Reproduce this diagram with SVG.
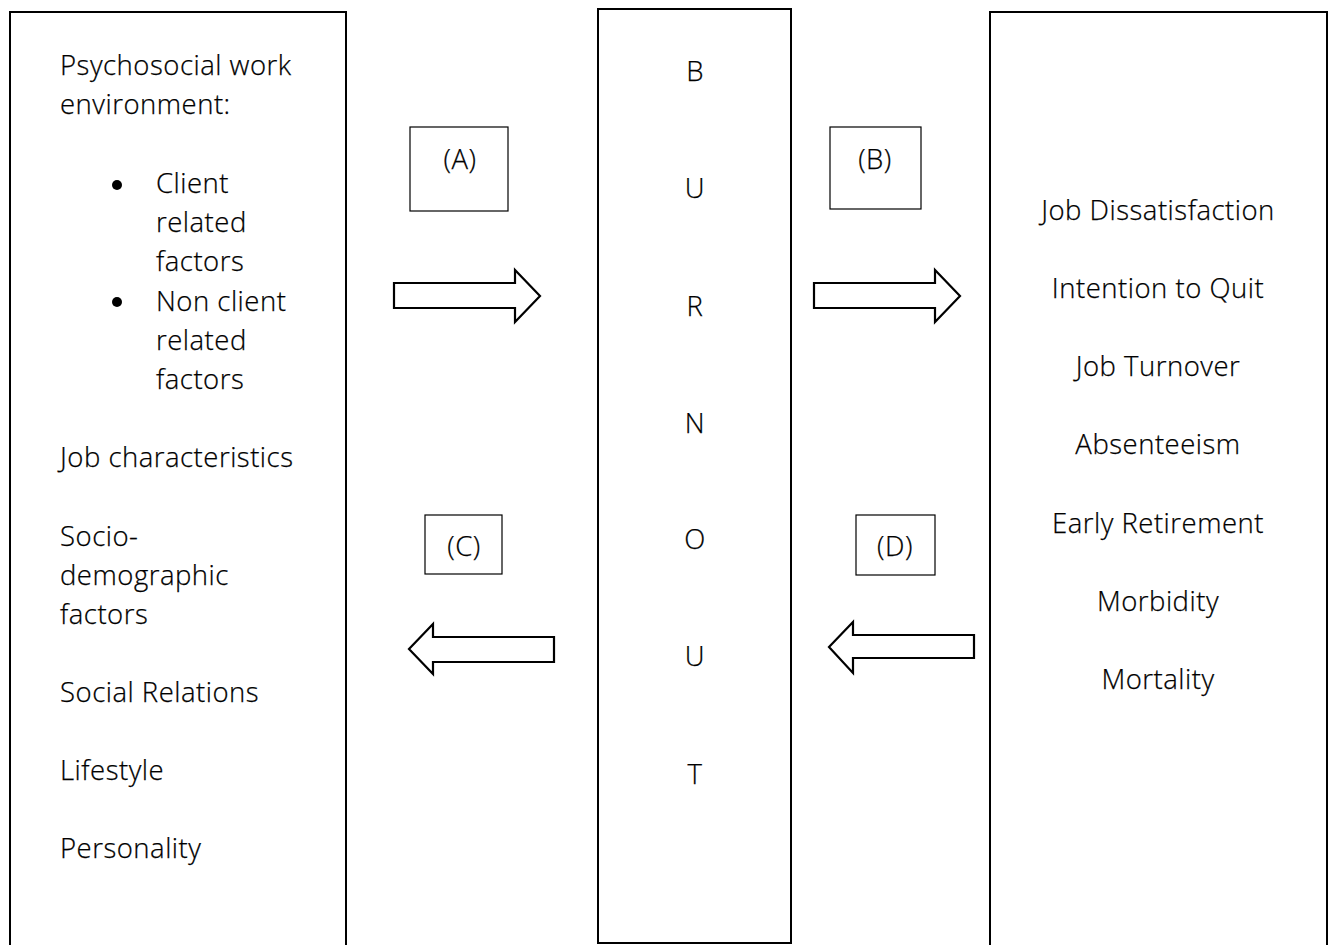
<svg xmlns="http://www.w3.org/2000/svg" width="1333" height="945" viewBox="0 0 1333 945">
  <style>
    .frame { fill: #ffffff; stroke: #000000; stroke-width: 2; }
    .tag { fill: #ffffff; stroke: #000000; stroke-width: 1.2; }
    .arrow { fill: #ffffff; stroke: #000000; stroke-width: 2.2; stroke-linejoin: miter; }
    text { font-family: "Open Sans", "Liberation Sans", sans-serif; font-weight: 300; font-size: 27.5px; letter-spacing: 0.5px; fill: #000000; stroke: #000000; stroke-width: 0.25px; }
    .mid { text-anchor: middle; }
  </style>
  <rect x="0" y="0" width="1333" height="945" fill="#ffffff"/>

  <!-- Determinants column (open at the bottom edge) -->
  <g id="determinants">
    <path class="frame" d="M10 946 V12 H346 V946"/>
    <text x="60" y="75">Psychosocial work</text>
    <text x="60" y="114">environment:</text>
    <circle cx="117" cy="185" r="5"/>
    <text x="156" y="193">Client</text>
    <text x="156" y="232">related</text>
    <text x="156" y="271">factors</text>
    <circle cx="117" cy="302" r="5"/>
    <text x="156" y="311">Non client</text>
    <text x="156" y="350">related</text>
    <text x="156" y="389">factors</text>
    <text x="60" y="467">Job characteristics</text>
    <text x="60" y="546">Socio-</text>
    <text x="60" y="585">demographic</text>
    <text x="60" y="624">factors</text>
    <text x="60" y="702">Social Relations</text>
    <text x="60" y="780">Lifestyle</text>
    <text x="60" y="858">Personality</text>
  </g>

  <!-- Burnout column -->
  <g id="burnout">
    <rect class="frame" x="598" y="9" width="193" height="934"/>
    <text class="mid" x="695" y="81">B</text>
    <text class="mid" x="695" y="198">U</text>
    <text class="mid" x="695" y="316">R</text>
    <text class="mid" x="695" y="433">N</text>
    <text class="mid" x="695" y="549">O</text>
    <text class="mid" x="695" y="666">U</text>
    <text class="mid" x="695" y="784">T</text>
  </g>

  <!-- Consequences column (open at the bottom edge) -->
  <g id="consequences">
    <path class="frame" d="M990 946 V12 H1327 V946"/>
    <text class="mid" x="1158" y="220">Job Dissatisfaction</text>
    <text class="mid" x="1158" y="298">Intention to Quit</text>
    <text class="mid" x="1158" y="376">Job Turnover</text>
    <text class="mid" x="1158" y="454">Absenteeism</text>
    <text class="mid" x="1158" y="533">Early Retirement</text>
    <text class="mid" x="1158" y="611">Morbidity</text>
    <text class="mid" x="1158" y="689">Mortality</text>
  </g>

  <!-- Path labels -->
  <g id="label-a">
    <rect class="tag" x="410" y="127" width="98" height="84"/>
    <text class="mid" x="460" y="169">(A)</text>
  </g>
  <g id="label-b">
    <rect class="tag" x="830" y="127" width="91" height="82"/>
    <text class="mid" x="875" y="169">(B)</text>
  </g>
  <g id="label-c">
    <rect class="tag" x="425" y="515" width="77" height="59"/>
    <text class="mid" x="464" y="556">(C)</text>
  </g>
  <g id="label-d">
    <rect class="tag" x="856" y="515" width="79" height="60"/>
    <text class="mid" x="895" y="556">(D)</text>
  </g>

  <!-- Block arrows between the columns -->
  <g id="connectors">
    <path class="arrow" d="M394 283 H515 V270 L540 296 L515 322 V308 H394 Z"/>
    <path class="arrow" d="M814 283 H935 V270 L960 296 L935 322 V308 H814 Z"/>
    <path class="arrow" d="M554 637 H433 V624 L409 649 L433 674 V662 H554 Z"/>
    <path class="arrow" d="M974 635 H853 V622 L829 647 L853 673 V658 H974 Z"/>
  </g>
</svg>
